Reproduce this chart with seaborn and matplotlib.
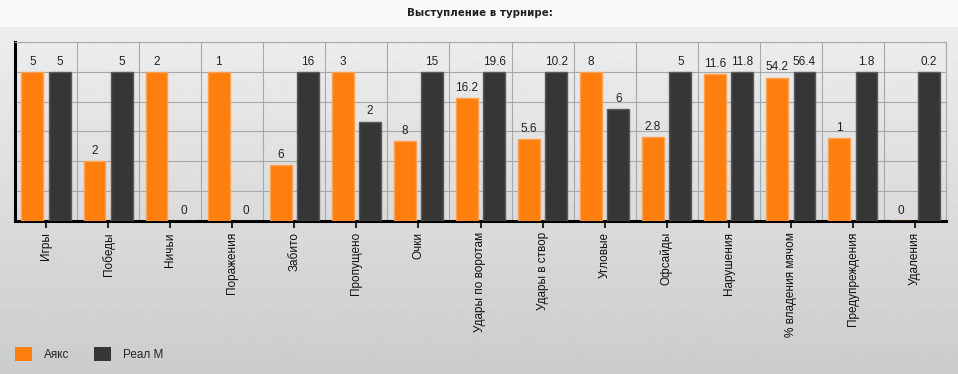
import numpy as np
import pandas as pd
import matplotlib
matplotlib.use('Agg')
import matplotlib.pyplot as plt
import seaborn as sns
from matplotlib.patches import Patch
from matplotlib.ticker import MultipleLocator

categories = ['Игры', 'Победы', 'Ничьи', 'Поражения', 'Забито', 'Пропущено', 'Очки',
              'Удары по воротам', 'Удары в створ', 'Угловые', 'Офсайды', 'Нарушения',
              '% владения мячом', 'Предупреждения', 'Удаления']
ajax = [5, 2, 2, 1, 6, 3, 8, 16.2, 5.6, 8, 2.8, 11.6, 54.2, 1, 0]
real = [5, 5, 0, 0, 16, 2, 15, 19.6, 10.2, 6, 5, 11.8, 56.4, 1.8, 0.2]
teams = ['Аякс', 'Реал М']
colors = ['#ff7f0e', '#363636']

# each category is scaled to its own maximum, like the original widget
rows = []
for team, vals in zip(teams, [ajax, real]):
    for c, v, a, r in zip(categories, vals, ajax, real):
        top = max(a, r)
        rows.append({'cat': c, 'team': team, 'value': v, 'norm': v / top if top else 0})
df = pd.DataFrame(rows)

sns.set_style('white')
plt.rcParams['font.family'] = ['Liberation Sans', 'DejaVu Sans']

fig = plt.figure(figsize=(9.58, 3.74), dpi=100)

# background: light title band and grey gradient below
bg = fig.add_axes([0, 0, 1, 1], zorder=-10)
h = 374
grad = np.ones((h, 1))
grad[:27] = 0.975
grad[27:, 0] = np.linspace(0.93, 0.80, h - 27)
bg.imshow(grad, cmap='gray', vmin=0, vmax=1, aspect='auto', extent=[0, 1, 0, 1])
bg.axis('off')

ax = fig.add_axes([15 / 958, 153 / 374, 931 / 958, 179 / 374])
ax.set_facecolor('none')

sns.barplot(data=df, x='cat', y='norm', hue='team', palette=colors, saturation=1,
            width=0.88, gap=0.2, ax=ax, legend=False, zorder=3)

for cont, vals, ec in zip(ax.containers, [ajax, real], ['#ffa050', '#5a5a5a']):
    for bar in cont:
        bar.set_edgecolor(ec)
        bar.set_linewidth(1)
    ax.bar_label(cont, labels=[f'{v:g}' for v in vals], padding=3, fontsize=8.5, color='#222222')

ax.set_xlim(-0.5, len(categories) - 0.5)
ax.set_ylim(0, 1.2)
ax.yaxis.set_major_locator(MultipleLocator(0.2))
ax.set_xticks(range(len(categories)))
ax.set_xticks(np.arange(0.5, len(categories) - 0.5, 1), minor=True)
ax.grid(True, which='major', axis='y', color='#a8a8a8', linewidth=0.8, zorder=0)
ax.grid(True, which='minor', axis='x', color='#a8a8a8', linewidth=0.8, zorder=0)
ax.grid(False, which='major', axis='x')
ax.set_axisbelow(True)
ax.set_yticklabels([])
ax.tick_params(axis='y', length=0)
ax.tick_params(axis='x', which='major', length=5, width=1.2, color='black', direction='out',
               bottom=True, pad=3)
ax.tick_params(axis='x', which='minor', length=0)
ax.set_xticklabels(categories, rotation=90, fontsize=8.5, color='#111111', va='top')
ax.set_xlabel('')
ax.set_ylabel('')
for s in ['left', 'bottom']:
    ax.spines[s].set_color('black')
    ax.spines[s].set_linewidth(2.2)
for s in ['top', 'right']:
    ax.spines[s].set_color('#a8a8a8')
    ax.spines[s].set_linewidth(0.8)

fig.text(480 / 958, 1 - 13 / 374, 'Выступление в турнире:', ha='center', va='center',
         fontsize=7.4, fontweight='bold', family='DejaVu Sans', color='#222222')

handles = [Patch(facecolor=c, edgecolor='none') for c in colors]
fig.legend(handles, teams, loc='center left', bbox_to_anchor=(10 / 958, 20 / 374), frameon=False,
           ncol=2, fontsize=8.5, handlelength=1.45, handleheight=1.45, handletextpad=1.0,
           columnspacing=2.1, borderaxespad=0)

fig.savefig('out.png', dpi=100)
